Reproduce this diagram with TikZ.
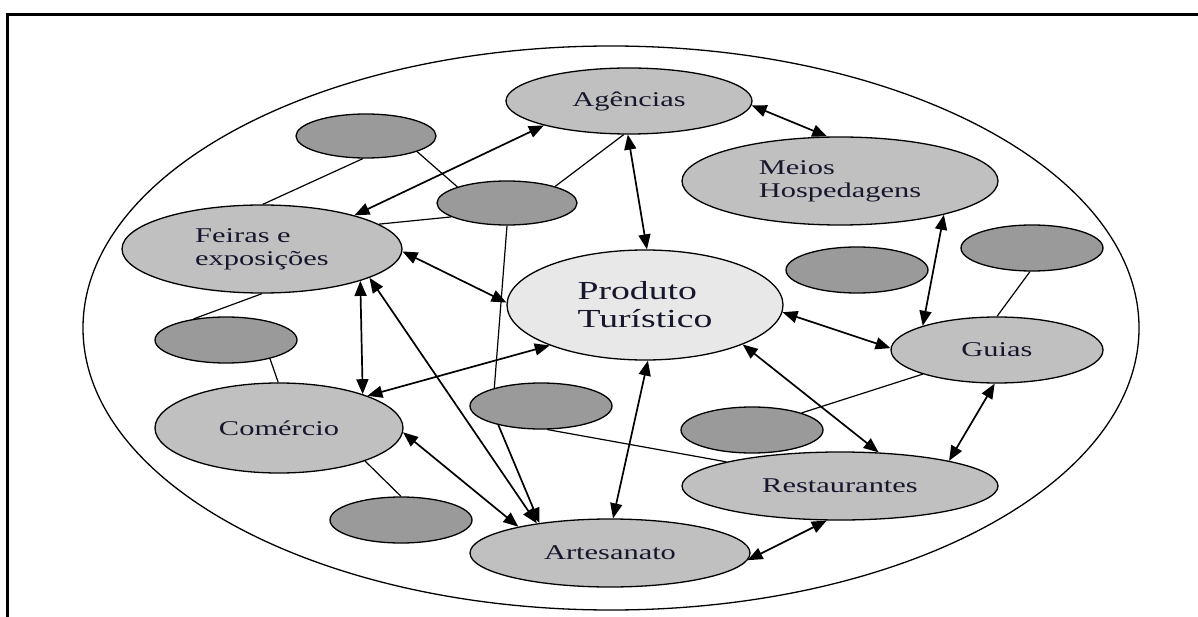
\documentclass[tikz,border=0pt]{standalone}
\usepackage{fontspec}
\setmainfont{Liberation Serif}[FakeStretch=1.45]
\usetikzlibrary{shapes.geometric,arrows.meta}
\pgfdeclarelayer{bg}
\pgfsetlayers{bg,main}
\definecolor{topicgray}{HTML}{C0C0C0}
\definecolor{blobgray}{HTML}{9A9A9A}
\definecolor{hubgray}{HTML}{E8E8E8}
\definecolor{ink}{HTML}{16162C}
\begin{document}
\begin{tikzpicture}[x=1pt,y=-1pt,
  topic/.style={ellipse, draw, line width=1.3pt, fill=topicgray, inner sep=0pt,
    font=\fontsize{21}{23}\selectfont, text=ink, align=left},
  hub/.style={topic, fill=hubgray, font=\fontsize{26}{28}\selectfont},
  blob/.style={ellipse, draw, line width=1.3pt, fill=blobgray, inner sep=0pt,
    minimum width=142pt, minimum height=46pt},
  link/.style={line width=1.2pt},
  both/.style={line width=1.7pt, {Triangle[length=15pt,width=12pt]}-{Triangle[length=15pt,width=12pt]}},
  one/.style={line width=1.7pt, -{Triangle[length=15pt,width=12pt]}}
]
\useasboundingbox (0,0) rectangle (1198,617);

% page frame
\draw[line width=3pt] (7,617) -- (7,15) -- (1198,15);

% named topics
\node[topic, minimum width=246pt, minimum height=66pt] (ag) at (629,101) {Agências};
\node[topic, minimum width=316pt, minimum height=88pt] (me) at (840,181) {Meios\\Hospedagens};
\node[topic, minimum width=280pt, minimum height=88pt] (fe) at (262,249) {Feiras e\\exposições};
\node[hub, minimum width=276pt, minimum height=110pt] (pr) at (645,305) {Produto\\Turístico};
\node[topic, minimum width=212pt, minimum height=66pt] (gu) at (997,350) {Guias};
\node[topic, minimum width=248pt, minimum height=90pt] (co) at (279,428) {Comércio};
\node[topic, minimum width=316pt, minimum height=68pt] (re) at (840,486) {Restaurantes};
\node[topic, minimum width=280pt, minimum height=68pt] (ar) at (610,553) {Artesanato};

% unlabelled satellites
\node[blob, minimum width=140pt, minimum height=44pt] (d1) at (366,136) {};
\node[blob, minimum width=140pt, minimum height=44pt] (d2) at (507,203) {};
\node[blob] (d3) at (226,340) {};
\node[blob] (d4) at (541,406) {};
\node[blob] (d5) at (401,520) {};
\node[blob] (d6) at (752,430) {};
\node[blob] (d7) at (1032,248) {};
\node[blob] (d8) at (857,270) {};

\begin{pgfonlayer}{bg}
  % outer boundary
  \draw[line width=1.3pt] (611,328) ellipse [x radius=528, y radius=282];

  % plain links
  \draw[link] (ag.261) -- (d2.19);
  \draw[link] (d2.194) -- (fe.12);
  \draw[link] (d1.262) -- (fe.89);
  \draw[link] (d1.-17) -- (d2.162);
  \draw[link] (d2.270) -- (d4.159);
  \draw[link] (d7.265) -- (gu.90);
  \draw[link] (d6.19) -- (gu.198);
  \draw[link] (d4.285) -- (re.168);
  \draw[link] (co.-21) -- (d5.90);
  \draw[link] (fe.270) -- (d3.147);
  \draw[link] (d3.-23) -- (co.91);

  % two-way arrows
  \draw[both] (ag.-2) -- (me.106);
  \draw[both] (fe.20) -- (ag.196);
  \draw[both] (fe.-1) -- (pr.179);
  \draw[both] (fe.-18) -- (co.22);
  \draw[both] (fe.-15) -- (ar.158);
  \draw[both] (co.20) -- (pr.203);
  \draw[both] (co.-2) -- (ar.164);
  \draw[both] (pr.88) -- (ag.268);
  \draw[both] (pr.273) -- (ar.85);
  \draw[both] (pr.-3) -- (gu.179);
  \draw[both] (pr.-22) -- (re.41);
  \draw[both] (me.-18) -- (gu.162);
  \draw[both] (gu.266) -- (re.13);
  \draw[both] (re.249) -- (ar.-3);

  % one-way arrow
  \draw[one] (d4.204) -- (ar.157);
\end{pgfonlayer}
\end{tikzpicture}
\end{document}
